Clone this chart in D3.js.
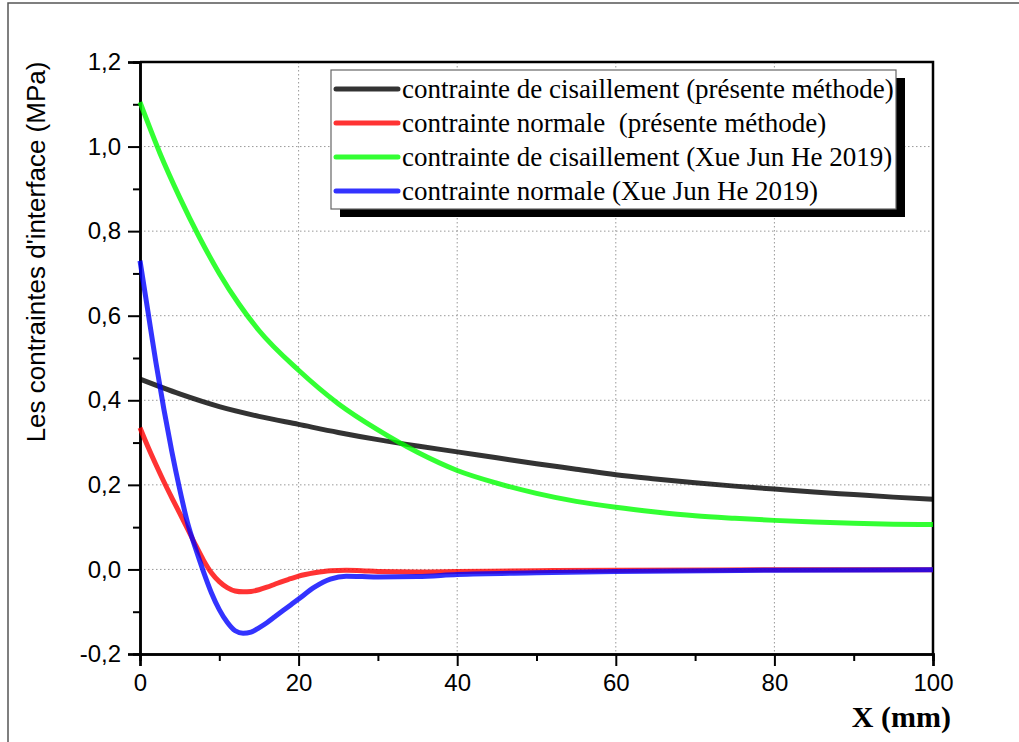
<!DOCTYPE html>
<html>
<head>
<meta charset="utf-8">
<script src="https://cdn.jsdelivr.net/npm/d3@7"></script>
<style>
  body { margin: 0; background: #fff; }
  svg { display: block; }
</style>
</head>
<body>
<svg class="chart" width="1019" height="742"></svg>
<script>
// values (X in mm, stress in MPa)
let shearX = [0, 5, 10, 15, 20, 25, 30, 35, 40, 45, 50, 55, 60, 65, 70, 75, 80, 85, 90, 95, 100];
let shearPresent = [0.450, 0.415, 0.385, 0.362, 0.343, 0.324, 0.307, 0.292, 0.278, 0.264, 0.250, 0.237, 0.224, 0.214, 0.205, 0.197, 0.190, 0.183, 0.177, 0.171, 0.166];

let greenX = [0, 2.5, 5, 7.5, 10, 12.5, 15, 20, 25, 30, 35, 40, 45, 50, 55, 60, 65, 70, 75, 80, 85, 90, 95, 100];
let shearHe = [1.105, 0.985, 0.88, 0.785, 0.70, 0.627, 0.565, 0.471, 0.392, 0.33, 0.277, 0.234, 0.204, 0.180, 0.161, 0.147, 0.136, 0.127, 0.121, 0.116, 0.112, 0.109, 0.107, 0.106];

let normalX = [0, 1, 2, 3, 4, 5, 6, 7, 8, 9, 10, 11, 12, 13, 14, 15, 16, 17, 18, 19, 20, 22, 24, 26, 28, 30, 35, 40, 50, 60, 80, 100];
let normalPresent = [0.335, 0.290, 0.248, 0.208, 0.170, 0.133, 0.096, 0.058, 0.022, -0.008, -0.029, -0.043, -0.051, -0.053, -0.052, -0.048, -0.042, -0.035, -0.028, -0.022, -0.016, -0.008, -0.003, -0.002, -0.003, -0.005, -0.006, -0.005, -0.003, -0.002, -0.001, -0.001];
let normalHe = [0.73, 0.61, 0.49, 0.38, 0.28, 0.19, 0.11, 0.05, -0.005, -0.055, -0.095, -0.125, -0.145, -0.151, -0.148, -0.138, -0.126, -0.112, -0.098, -0.084, -0.070, -0.042, -0.023, -0.016, -0.017, -0.018, -0.017, -0.012, -0.008, -0.005, -0.002, -0.001];

let legendLabels = [
  "contrainte de cisaillement (présente méthode)",
  "contrainte normale  (présente méthode)",
  "contrainte de cisaillement (Xue Jun He 2019)",
  "contrainte normale (Xue Jun He 2019)"
];
let yTicks = [-0.2, 0, 0.2, 0.4, 0.6, 0.8, 1.0, 1.2];
let xTicks = [0, 20, 40, 60, 80, 100];

let svg = d3.select(".chart");

let margin = { top: 62, right: 86, bottom: 88, left: 140 };
let plotWidth = 1019 - margin.left - margin.right;
let plotHeight = 742 - margin.top - margin.bottom;

// outer figure frame (top and left only show in the picture)
svg.append("path")
  .attr("d", "M8,742 L8,3 L1019,3")
  .attr("fill", "none")
  .attr("stroke", "#555")
  .attr("stroke-width", 1.5);

let x = d3.scaleLinear().domain([0, 100]).range([0, plotWidth]);
let y = d3.scaleLinear().domain([-0.2, 1.2]).range([plotHeight, 0]);

let plot = svg.append("g").attr("transform", translate(margin.left, margin.top));

// dotted grid
plot.append("g").selectAll("line")
  .data(yTicks.filter(d => d > -0.2 && d < 1.2))
  .join("line")
  .attr("x1", 0).attr("x2", plotWidth)
  .attr("y1", d => y(d)).attr("y2", d => y(d))
  .attr("stroke", "#999").attr("stroke-width", 1).attr("stroke-dasharray", "1.5,2.5");
plot.append("g").selectAll("line")
  .data(xTicks.filter(d => d > 0 && d < 100))
  .join("line")
  .attr("y1", 0).attr("y2", plotHeight)
  .attr("x1", d => x(d)).attr("x2", d => x(d))
  .attr("stroke", "#999").attr("stroke-width", 1).attr("stroke-dasharray", "1.5,2.5");

let fmt = d => d3.format(".1f")(d).replace(".", ",").replace("−", "-");

// minor ticks first, major on top
let yMinor = d3.axisLeft(y).tickValues(d3.range(-0.1, 1.2, 0.2)).tickSize(7).tickFormat("");
let xMinor = d3.axisBottom(x).tickValues([10, 30, 50, 70, 90]).tickSize(7).tickFormat("");
plot.append("g").call(yMinor).call(styleAxis);
plot.append("g").attr("transform", translate(0, plotHeight)).call(xMinor).call(styleAxis);

let yAxis = d3.axisLeft(y).tickValues(yTicks).tickSize(12).tickPadding(7).tickFormat(fmt);
let xAxis = d3.axisBottom(x).tickValues(xTicks).tickSize(12).tickPadding(8).tickFormat(d3.format("d"));
plot.append("g").call(yAxis).call(styleAxis);
plot.append("g").attr("transform", translate(0, plotHeight)).call(xAxis).call(styleAxis);

// top and right frame
plot.append("path")
  .attr("d", `M0,0 H${plotWidth} V${plotHeight}`)
  .attr("fill", "none").attr("stroke", "#000").attr("stroke-width", 2.5);

function styleAxis(g) {
  g.select(".domain").attr("stroke", "#000").attr("stroke-width", 2.5);
  g.selectAll(".tick line").attr("stroke", "#000").attr("stroke-width", 2);
  g.selectAll(".tick text")
    .attr("fill", "#000")
    .style("font-family", "'Liberation Sans', Arial, sans-serif")
    .style("font-size", "24px");
}

// curves
let series = [
  { xs: shearX, ys: shearPresent, color: "#000" },
  { xs: normalX, ys: normalPresent, color: "#ff0000" },
  { xs: greenX, ys: shearHe, color: "#00ff00" },
  { xs: normalX, ys: normalHe, color: "#0000ff" }
];
let line = d3.line()
  .x(d => x(d[0]))
  .y(d => y(d[1]))
  .curve(d3.curveMonotoneX);

plot.append("g").selectAll("path")
  .data(series)
  .join("path")
  .attr("d", s => line(s.xs.map((v, i) => [v, s.ys[i]])))
  .attr("fill", "none")
  .attr("stroke", s => s.color)
  .attr("stroke-opacity", 0.8)
  .attr("stroke-width", 5)
  .attr("stroke-linejoin", "round");

// legend with drop shadow
let legend = svg.append("g").attr("transform", translate(331, 70));
let lw = 565, lh = 139;
legend.append("rect").attr("x", 9).attr("y", 8).attr("width", lw).attr("height", lh).attr("fill", "#000");
legend.append("rect").attr("x", 0).attr("y", 0).attr("width", lw).attr("height", lh)
  .attr("fill", "#fff").attr("stroke", "#666").attr("stroke-width", 1.2);

let items = legend.selectAll(".item")
  .data(legendLabels)
  .join("g")
  .attr("class", "item")
  .attr("transform", (d, i) => translate(0, 19 + i * 34));
items.append("line")
  .attr("x1", 5).attr("x2", 67)
  .attr("stroke", (d, i) => series[i].color)
  .attr("stroke-opacity", 0.8)
  .attr("stroke-width", 5)
  .attr("stroke-linecap", "round");
items.append("text")
  .attr("x", 71).attr("y", 9)
  .style("font-family", "'Liberation Serif', 'Times New Roman', serif")
  .style("font-size", "27px")
  .style("white-space", "pre")
  .attr("fill", "#000")
  .text(d => d);

// axis titles
svg.append("text")
  .attr("transform", "translate(45,252) rotate(-90)")
  .attr("text-anchor", "middle")
  .style("font-family", "'Liberation Sans', Arial, sans-serif")
  .style("font-size", "26px")
  .text("Les contraintes d'interface (MPa)");

svg.append("text")
  .attr("x", 951).attr("y", 727)
  .attr("text-anchor", "end")
  .style("font-family", "'Liberation Serif', 'Times New Roman', serif")
  .style("font-size", "30px")
  .style("font-weight", "bold")
  .text("X (mm)");

function translate(x, y) {
  return 'translate(' + x + ',' + y + ')';
}
</script>
</body>
</html>
